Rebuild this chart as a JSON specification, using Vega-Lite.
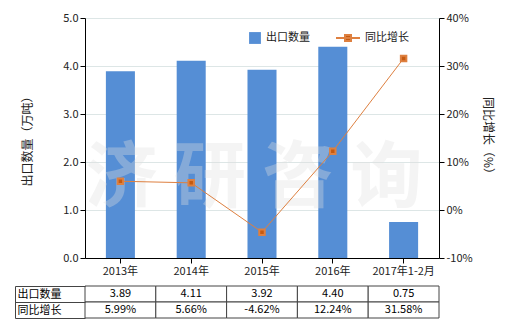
{
  "$schema": "https://vega.github.io/schema/vega-lite/v6.json",
  "padding": {"left": 14, "top": 12, "right": 5, "bottom": 5},
  "spacing": 4,
  "config": {
    "font": "Noto Sans CJK SC",
    "view": {"stroke": null},
    "axis": {"labelFontSize": 11, "labelColor": "#222", "titleFontSize": 12, "titleColor": "#222", "titleFontWeight": "normal", "domainColor": "#000", "tickColor": "#000"}
  },
  "datasets": {
    "main": [
      {"year": "2013年", "qty": 3.89, "growth": 5.99},
      {"year": "2014年", "qty": 4.11, "growth": 5.66},
      {"year": "2015年", "qty": 3.92, "growth": -4.62},
      {"year": "2016年", "qty": 4.40, "growth": 12.24},
      {"year": "2017年1-2月", "qty": 0.75, "growth": 31.58}
    ],
    "table": [
      {"year": "2013年", "row": "出口数量", "text": "3.89"},
      {"year": "2014年", "row": "出口数量", "text": "4.11"},
      {"year": "2015年", "row": "出口数量", "text": "3.92"},
      {"year": "2016年", "row": "出口数量", "text": "4.40"},
      {"year": "2017年1-2月", "row": "出口数量", "text": "0.75"},
      {"year": "2013年", "row": "同比增长", "text": "5.99%"},
      {"year": "2014年", "row": "同比增长", "text": "5.66%"},
      {"year": "2015年", "row": "同比增长", "text": "-4.62%"},
      {"year": "2016年", "row": "同比增长", "text": "12.24%"},
      {"year": "2017年1-2月", "row": "同比增长", "text": "31.58%"}
    ],
    "wm": [{"year": "2015年", "qty": 1.65, "t": "济 研 咨 询"}]
  },
  "vconcat": [
    {
      "width": 354,
      "height": 240,
      "encoding": {
        "x": {"field": "year", "type": "nominal", "sort": null,
          "scale": {"paddingInner": 0.59, "paddingOuter": 0.295},
          "axis": {"title": null, "labelAngle": 0, "tickSize": 5, "labelPadding": 2, "domainColor": "#000"}}
      },
      "layer": [
        {
          "layer": [
            {
              "data": {"name": "main"},
              "mark": {"type": "bar"},
              "encoding": {
                "y": {"field": "qty", "type": "quantitative",
                  "scale": {"domain": [0, 5], "nice": false},
                  "axis": {"title": "出口数量（万吨）", "values": [0, 1, 2, 3, 4, 5], "format": ".1f", "grid": true, "gridColor": "#DDE6E6", "tickSize": 5, "titlePadding": 28}},
                "fill": {"datum": "出口数量", "type": "nominal",
                  "scale": {"range": ["#558ED5"]},
                  "legend": {"title": null, "orient": "none", "legendX": 163, "legendY": 13, "symbolType": "square", "symbolSize": 140, "symbolOpacity": 1, "labelFontSize": 11, "labelColor": "#222"}}
              }
            },
            {
              "data": {"name": "wm"},
              "mark": {"type": "text", "fontSize": 72, "fontWeight": "bold", "fill": "#E0E0E0", "opacity": 0.35, "dx": -8},
              "encoding": {
                "y": {"field": "qty", "type": "quantitative"},
                "text": {"field": "t"}
              }
            }
          ]
        },
        {
          "data": {"name": "main"},
          "mark": {"type": "line", "strokeWidth": 1, "point": {"shape": "square", "size": 30, "filled": true, "color": "#C55A11"}},
          "encoding": {
            "y": {"field": "growth", "type": "quantitative",
              "scale": {"domain": [-10, 40], "nice": false},
              "axis": {"orient": "right", "title": "同比增长（%）", "values": [-10, 0, 10, 20, 30, 40], "labelExpr": "datum.value + '%'", "grid": false, "tickSize": 5, "titlePadding": 8}},
            "stroke": {"datum": "同比增长", "type": "nominal",
              "scale": {"range": ["#DE8040"]},
              "legend": {"title": null, "orient": "none", "legendX": 250, "legendY": 7, "symbolType": "M-1,0L1,0M-0.25,-0.25L0.25,-0.25L0.25,0.25L-0.25,0.25Z", "symbolSize": 576, "symbolStrokeWidth": 2, "symbolFillColor": "#C55A11", "labelFontSize": 11, "labelColor": "#222"}}
          }
        }
      ],
      "resolve": {"scale": {"y": "independent", "fill": "independent", "stroke": "independent"}}
    },
    {
      "width": 354,
      "height": 32,
      "data": {"name": "table"},
      "encoding": {
        "x": {"field": "year", "type": "nominal", "sort": null, "scale": {"paddingInner": 0, "paddingOuter": 0}, "axis": null}
      },
      "layer": [
        {
          "mark": {"type": "rect", "fill": "#fff", "stroke": "#444", "strokeWidth": 1},
          "encoding": {
            "y": {"field": "row", "type": "nominal", "sort": ["出口数量", "同比增长"],
              "scale": {"paddingInner": 0, "paddingOuter": 0},
              "axis": {"orient": "left", "title": null, "domain": false, "ticks": true, "tickBand": "extent", "tickSize": 70, "tickColor": "#444", "labelAlign": "left", "labelPadding": -2, "labelFontSize": 11, "labelColor": "#000"}}
          }
        },
        {
          "mark": {"type": "text", "fontSize": 11, "color": "#000"},
          "encoding": {
            "y": {"field": "row", "type": "nominal", "sort": ["出口数量", "同比增长"],
              "scale": {"paddingInner": 0, "paddingOuter": 0},
              "axis": {"orient": "left", "offset": 70, "title": null, "labels": false, "ticks": false, "domain": true, "domainColor": "#444"}},
            "text": {"field": "text"}
          }
        }
      ],
      "resolve": {"scale": {"y": "independent"}}
    }
  ]
}
